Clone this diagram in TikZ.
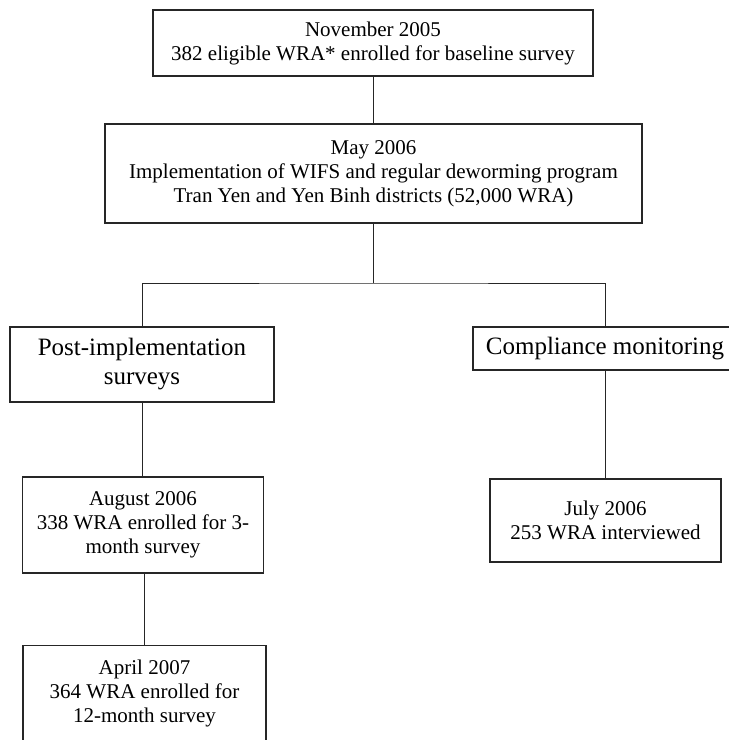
\documentclass[tikz,border=0pt]{standalone}
\usepackage{fontspec}
\setmainfont{Liberation Serif}
\begin{document}
\tikzset{
  box/.style={draw=black!85, line width=1.1pt, rectangle, inner sep=0pt, align=center,
    font=\fontsize{21}{24}\selectfont},
  bigbox/.style={box, font=\fontsize{25}{29}\selectfont},
  link/.style={draw=black!85, line width=1pt}
}
\begin{tikzpicture}[x=1pt,y=-1pt]
\useasboundingbox (0,0) rectangle (729,740);
\node[box, minimum width=440pt, minimum height=66pt] (b1) at (373,43)
  {November 2005\\382 eligible WRA* enrolled for baseline survey};
\node[box, minimum width=537pt, minimum height=99pt] (b2) at (373.5,173.5)
  {May 2006\\Implementation of WIFS and regular deworming program\\Tran Yen and Yen Binh districts (52,000 WRA)};
\node[bigbox, minimum width=264pt, minimum height=75pt] (post) at (142,364.5)
  {Post-implementation\\surveys};
\node[bigbox, minimum width=264pt, minimum height=43pt] (comp) at (605,348.5)
  {Compliance monitoring};
\node[box, minimum width=241pt, minimum height=96pt] (aug) at (143,525)
  {August 2006\\338 WRA enrolled for 3-\\month survey};
\node[box, minimum width=243pt, minimum height=96pt, anchor=north] (apr) at (144.5,645)
  {April 2007\\364 WRA enrolled for\\12-month survey};
\node[box, minimum width=231pt, minimum height=83pt] (july) at (605.5,520.5)
  {July 2006\\253 WRA interviewed};
\coordinate (hy) at (373.5,283);
\draw[link] (b1.south) -- (b1.south |- b2.north);
\draw[link] (b2.south) -- (hy);
\draw[link] (post.north) |- (hy) -| (comp.north);
\draw[link] (post.south) -- (post.south |- aug.north);
\draw[link] (apr.north |- aug.south) -- (apr.north);
\draw[link] (comp.south) -- (comp.south |- july.north);
\end{tikzpicture}
\end{document}
